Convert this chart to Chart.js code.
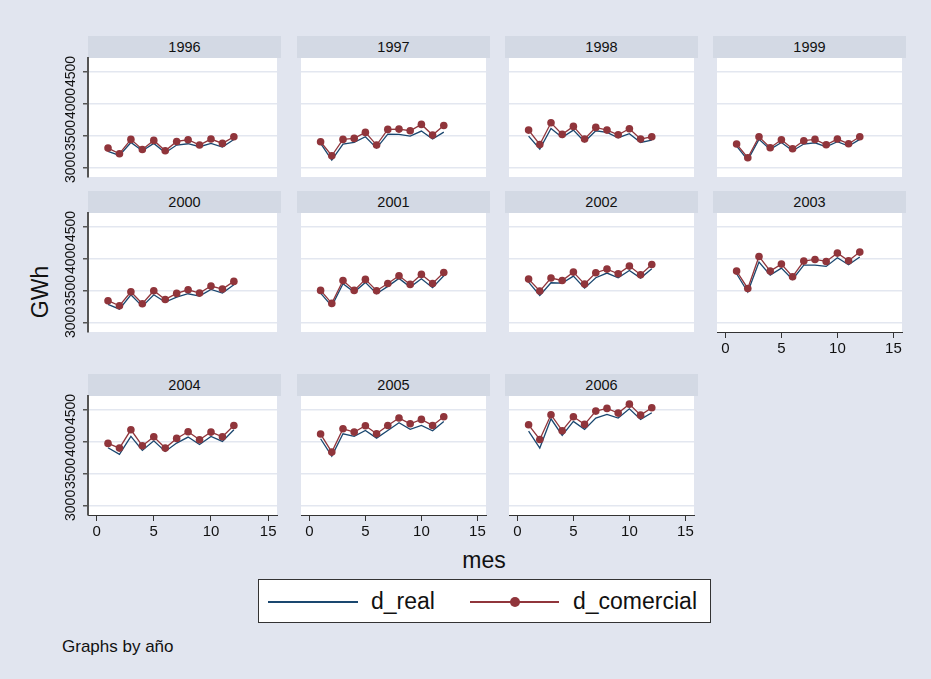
<!DOCTYPE html>
<html>
<head>
<meta charset="utf-8">
<script src="https://cdn.jsdelivr.net/npm/chart.js@4.4.1/dist/chart.umd.min.js"></script>
<style>
body { margin: 0; width: 931px; height: 679px; background: #E1E5EF; font-family: "Liberation Sans", Arial, sans-serif; overflow: hidden; position: relative; color: #111; }
.strip { position: absolute; height: 22px; width: 193px; background: #D3D9E4; text-align: center; font-size: 14.5px; line-height: 22px; }
canvas { position: absolute; z-index: 2; }
.txt { position: absolute; white-space: nowrap; }
#legend { position: absolute; left: 258px; top: 579px; width: 453px; height: 44px; background: #fff; border: 1px solid #333; box-sizing: border-box; }
</style>
</head>
<body>
<script>
// datos: demanda mensual (GWh) por año
const anios = [1996, 1997, 1998, 1999, 2000, 2001, 2002, 2003, 2004, 2005, 2006];
const meses = [1, 2, 3, 4, 5, 6, 7, 8, 9, 10, 11, 12];
const xTicks = [0, 5, 10, 15];
const yTicks = [3000, 3500, 4000, 4500];

const dReal = [
    [3250, 3188, 3390, 3260, 3375, 3230, 3350, 3370, 3323, 3375, 3318, 3437],
    [3375, 3115, 3365, 3390, 3480, 3302, 3521, 3516, 3490, 3568, 3443, 3552],
    [3490, 3287, 3610, 3469, 3583, 3401, 3573, 3547, 3464, 3526, 3390, 3427],
    [3333, 3115, 3438, 3281, 3390, 3260, 3365, 3385, 3323, 3401, 3333, 3438],
    [3281, 3208, 3432, 3250, 3432, 3318, 3396, 3448, 3411, 3516, 3458, 3589],
    [3458, 3255, 3604, 3474, 3625, 3448, 3563, 3688, 3552, 3682, 3542, 3729],
    [3630, 3422, 3620, 3615, 3724, 3536, 3698, 3771, 3698, 3812, 3693, 3838],
    [3760, 3474, 3943, 3740, 3849, 3672, 3896, 3896, 3875, 4010, 3901, 4021],
    [3901, 3797, 4078, 3859, 4010, 3844, 3974, 4068, 3953, 4078, 4000, 4182],
    [4042, 3771, 4120, 4078, 4172, 4052, 4172, 4292, 4188, 4250, 4167, 4313],
    [4161, 3896, 4354, 4094, 4313, 4188, 4365, 4422, 4365, 4510, 4344, 4448]
];
const dComercial = [
    [3302, 3214, 3438, 3281, 3422, 3260, 3406, 3432, 3349, 3443, 3375, 3479],
    [3401, 3182, 3438, 3453, 3547, 3349, 3594, 3599, 3573, 3672, 3505, 3656],
    [3583, 3359, 3698, 3516, 3641, 3443, 3625, 3583, 3510, 3604, 3443, 3479],
    [3365, 3151, 3479, 3307, 3432, 3292, 3417, 3438, 3354, 3443, 3370, 3479],
    [3339, 3260, 3479, 3292, 3495, 3359, 3453, 3510, 3458, 3568, 3521, 3641],
    [3500, 3297, 3656, 3500, 3672, 3495, 3609, 3729, 3594, 3750, 3609, 3781],
    [3677, 3490, 3693, 3656, 3786, 3599, 3776, 3833, 3760, 3880, 3745, 3906],
    [3802, 3531, 4031, 3802, 3911, 3714, 3958, 3984, 3953, 4083, 3964, 4099],
    [3969, 3896, 4182, 3932, 4073, 3896, 4047, 4151, 4026, 4146, 4073, 4250],
    [4115, 3833, 4198, 4146, 4245, 4120, 4250, 4365, 4276, 4344, 4250, 4385],
    [4260, 4031, 4417, 4167, 4385, 4266, 4474, 4516, 4443, 4583, 4411, 4526]
];

const NAVY = '#1A476F';
const MAROON = '#90353B';
const FONT = '"Liberation Sans", Arial, sans-serif';

const colLeft = [88, 297, 505, 713];
const stripTop = [36, 191, 374];
const plotW = 193, plotH = 119, yAxisW = 38, xAxisH = 34, pad = 8;

// fondo blanco del area de trazado
const fondoBlanco = {
    id: 'fondoBlanco',
    beforeDraw(chart) {
        const a = chart.chartArea;
        const ctx = chart.ctx;
        ctx.save();
        ctx.fillStyle = '#fff';
        ctx.fillRect(a.left, a.top, a.right - a.left, a.bottom - a.top);
        ctx.restore();
    }
};

// etiquetas del eje y giradas (estilo Stata)
const etiquetasY = {
    id: 'etiquetasY',
    afterDraw(chart, args, opts) {
        if (!opts.show) return;
        const sc = chart.scales.y;
        const ctx = chart.ctx;
        ctx.save();
        ctx.font = '14px ' + FONT;
        ctx.fillStyle = '#111';
        ctx.textAlign = 'center';
        ctx.textBaseline = 'middle';
        yTicks.forEach(v => {
            ctx.save();
            ctx.translate(sc.left + 21, sc.getPixelForValue(v));
            ctx.rotate(-Math.PI / 2);
            ctx.fillText(String(v), 0, 0);
            ctx.restore();
        });
        ctx.restore();
    }
};

anios.forEach((anio, i) => {
    const row = Math.floor(i / 4);
    const col = i % 4;
    const hasX = i >= 7;
    const hasY = col === 0;

    const strip = document.createElement('div');
    strip.className = 'strip';
    strip.style.left = colLeft[col] + 'px';
    strip.style.top = stripTop[row] + 'px';
    strip.textContent = anio;
    document.body.appendChild(strip);

    const cv = document.createElement('canvas');
    const w = plotW + (hasY ? yAxisW : 0);
    const h = pad + plotH + (hasX ? xAxisH : pad);
    cv.width = w;
    cv.height = h;
    cv.style.width = w + 'px';
    cv.style.height = h + 'px';
    cv.style.left = (colLeft[col] - (hasY ? yAxisW : 0)) + 'px';
    cv.style.top = (stripTop[row] + 22 - pad) + 'px';
    document.body.appendChild(cv);

    new Chart(cv, {
        type: 'line',
        data: {
            datasets: [
                {
                    label: 'd_comercial',
                    data: meses.map((m, k) => ({ x: m, y: dComercial[i][k] })),
                    borderColor: MAROON,
                    backgroundColor: MAROON,
                    borderWidth: 1.3,
                    pointRadius: 3.8,
                    pointBorderWidth: 0,
                    pointBackgroundColor: MAROON,
                    tension: 0
                },
                {
                    label: 'd_real',
                    data: meses.map((m, k) => ({ x: m, y: dReal[i][k] })),
                    borderColor: NAVY,
                    borderWidth: 1.3,
                    pointRadius: 0,
                    tension: 0
                }
            ]
        },
        options: {
            responsive: false,
            animation: false,
            layout: { padding: { top: pad, bottom: hasX ? 0 : pad, left: 0, right: 0 } },
            plugins: {
                legend: { display: false },
                tooltip: { enabled: false },
                etiquetasY: { show: hasY }
            },
            scales: {
                x: {
                    type: 'linear',
                    min: -0.75,
                    max: 15.77,
                    display: hasX,
                    afterBuildTicks: s => { s.ticks = xTicks.map(v => ({ value: v })); },
                    afterFit: s => { s.height = hasX ? xAxisH : 0; },
                    grid: { drawOnChartArea: false, drawTicks: true, tickLength: 6, tickColor: '#333' },
                    border: { color: '#333', width: 1 },
                    ticks: { font: { size: 15, family: FONT }, color: '#111', padding: 2, maxRotation: 0 }
                },
                y: {
                    min: 2850,
                    max: 4710,
                    afterBuildTicks: s => { s.ticks = yTicks.map(v => ({ value: v })); },
                    afterFit: s => { s.width = hasY ? yAxisW : 0; },
                    grid: { color: '#E3E7F0', lineWidth: 1.5, drawTicks: hasY, tickLength: 5, tickColor: '#555' },
                    border: { display: hasY, color: '#555', width: 2 },
                    ticks: { display: false }
                }
            }
        },
        plugins: [fondoBlanco, etiquetasY]
    });
});
</script>

<div class="txt" style="left:40px; top:292px; font-size:23px; transform: translate(-50%, -50%) rotate(-90deg);">GWh</div>
<div class="txt" style="left:484px; top:560px; font-size:23px; transform: translate(-50%, -50%);">mes</div>
<div id="legend">
    <div style="position:absolute; left:9px; top:21px; width:90px; height:2px; background:#1A476F;"></div>
    <div class="txt" style="left:112px; top:21px; font-size:23px; transform: translateY(-50%);">d_real</div>
    <div style="position:absolute; left:211px; top:21px; width:89px; height:2px; background:#90353B;"></div>
    <div style="position:absolute; left:251px; top:17px; width:10px; height:10px; border-radius:50%; background:#90353B;"></div>
    <div class="txt" style="left:314px; top:21px; font-size:23px; transform: translateY(-50%);">d_comercial</div>
</div>
<div class="txt" style="left:62px; top:647px; font-size:17px; transform: translateY(-50%);">Graphs by año</div>
</body>
</html>
